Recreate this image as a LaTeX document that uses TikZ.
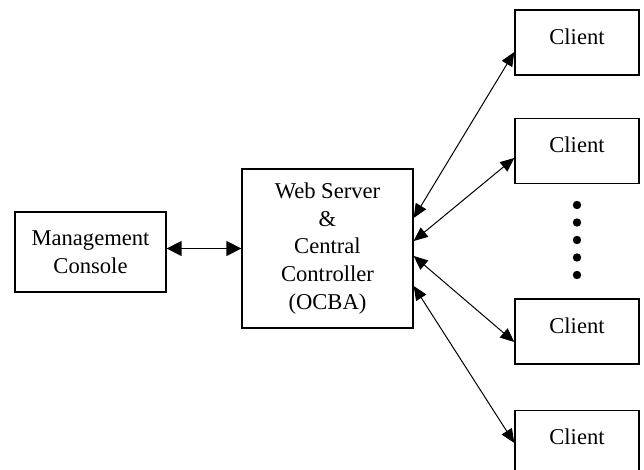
\documentclass[tikz,border=0pt]{standalone}
\usepackage{fontspec}
\setmainfont{Liberation Serif}
\usetikzlibrary{arrows.meta,calc}
\begin{document}
\begin{tikzpicture}[x=0.5pt,y=-0.5pt,
  box/.style={draw,line width=0.7pt,inner sep=0pt,align=center,
              font=\fontsize{11.3}{13.8}\selectfont},
  client/.style={box,minimum width=62pt,minimum height=32.5pt,text depth=6.2pt},
  link/.style={line width=0.5pt,
               {Triangle[length=7pt,width=6pt]}-{Triangle[length=7pt,width=6pt]}},
  bus/.style={line width=0.8pt,
              {Triangle[length=7.5pt,width=7.5pt]}-{Triangle[length=7.5pt,width=7.5pt]}},
  dotmark/.style={circle,fill,inner sep=0pt,minimum size=4.2pt}]
\useasboundingbox (0,0) rectangle (644,470);

% management console and central controller
\node[box,minimum width=75.5pt,minimum height=40pt] (mc) at (90.5,252)
  {Management\\Console};
\node[box,minimum width=85.5pt,minimum height=79.5pt] (ws) at (327.5,248.5)
  {Web Server\\\&\\Central\\Controller\\(OCBA)};

% clients
\node[client] (c1) at (577,42.5)  {Client};
\node[client] (c2) at (577,151)   {Client};
\node[client] (c3) at (577,331.5) {Client};
\node[client] (c4) at (577,443)   {Client};

% ellipsis between the clients
\node[dotmark] (d1) at (577,205) {};
\node[dotmark] (d2) at (577,222.5) {};
\node[dotmark] (d3) at (577,240) {};
\node[dotmark] (d4) at (577,257.5) {};
\node[dotmark] (d5) at (577,275) {};

% connectors
\draw[bus] (mc.east |- ws.west) -- (ws.west);
\draw[link] ($(ws.east)+(0,-30.5)$) -- ($(c1.west)+(0,9.5)$);
\draw[link] ($(ws.east)+(0,-7.5)$)  -- ($(c2.west)+(0,7)$);
\draw[link] ($(ws.east)+(0,7.5)$)   -- ($(c3.west)+(0,10.5)$);
\draw[link] ($(ws.east)+(0,37.5)$)  -- (c4.west);
\end{tikzpicture}
\end{document}
